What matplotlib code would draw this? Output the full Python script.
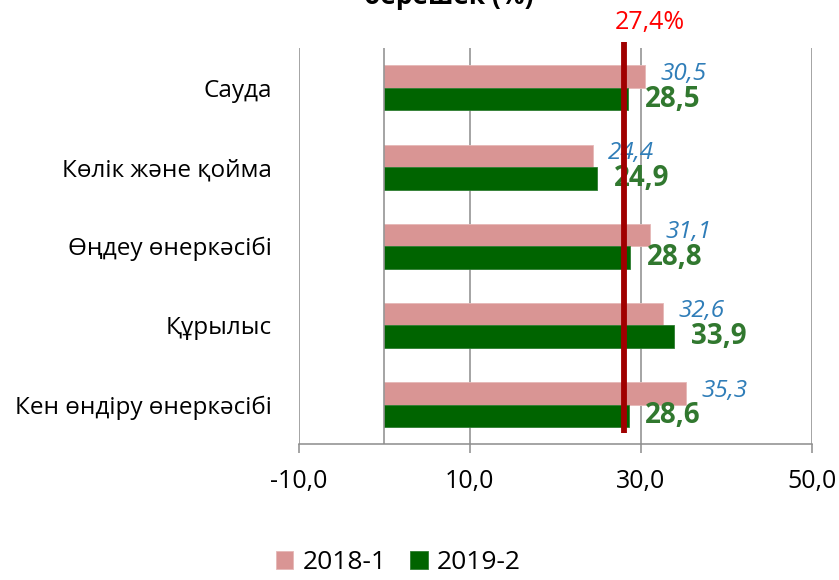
import matplotlib
matplotlib.use('Agg')
import matplotlib.pyplot as plt
import numpy as np

plt.rcParams['font.family'] = ['Open Sans', 'DejaVu Sans']

categories = ['Сауда', 'Көлік және қойма', 'Өңдеу өнеркәсібі', 'Құрылыс', 'Кен өндіру өнеркәсібі']
series_names = ['2018-1', '2019-2']
vals_2018 = [30.5, 24.4, 31.1, 32.6, 35.3]
vals_2019 = [28.5, 24.9, 28.8, 33.9, 28.6]
avg_label = '27,4%'
avg_line_x = 28.1   # where the red line sits in the picture
x_ticks = [-10, 10, 30, 50]

pink = '#D99594'
green = '#006400'
grid_col = '#8C8C8C'


def fmt(v):
    return '{:.1f}'.format(v).replace('.', ',')


fig = plt.figure(figsize=(8.39, 5.8), dpi=100)
ax = fig.add_axes([0.3558, 0.2340, 0.6117, 0.6828])

y = np.arange(len(categories))
h = 0.284
ax.barh(y - h / 2, vals_2018, height=h, color=pink, edgecolor='#E6B8B7', linewidth=0.6,
        label=series_names[0], zorder=2)
ax.barh(y + h / 2, vals_2019, height=h, color=green, edgecolor='#2E7D32', linewidth=0.6,
        label=series_names[1], zorder=2)

for yi, v in zip(y, vals_2018):
    ax.annotate(fmt(v), (v, yi - h / 2), xytext=(11, 2), textcoords='offset points',
                ha='left', va='center', fontsize=17.5, style='italic', color='#2F7DB8', zorder=5)
for yi, v in zip(y, vals_2019):
    ax.annotate(fmt(v), (v, yi + h / 2), xytext=(12, 0), textcoords='offset points',
                ha='left', va='center', fontsize=20, fontweight='bold', color='#31782F', zorder=5)

# average line, drawn over the labels as in the source
ax.plot([avg_line_x, avg_line_x], [-0.583, 4.362], color='#A00000', linewidth=4.2,
        solid_capstyle='butt', clip_on=False, zorder=6)
ax.text(31.1, -0.82, avg_label, ha='center', va='center', fontsize=18, color='#FF0000')

ax.set_xlim(-10, 50)
ax.set_ylim(4.5, -0.5)
ax.set_xticks(x_ticks)
ax.set_xticklabels([fmt(t) for t in x_ticks], fontsize=18)
ax.set_yticks(y)
ax.set_yticklabels(categories, fontsize=17.5)
ax.tick_params(axis='y', length=0, pad=19)
ax.tick_params(axis='x', length=6.5, width=1.1, color=grid_col, pad=11)

for t in x_ticks:
    ax.axvline(t, color=grid_col, linewidth=1.1, zorder=1)
ax.axvline(0, color=grid_col, linewidth=1.1, zorder=3)

for s in ['top', 'right', 'left']:
    ax.spines[s].set_visible(False)
ax.spines['bottom'].set_color(grid_col)
ax.spines['bottom'].set_linewidth(1.1)

fig.text(0.535, 0.9935, 'берешек (%)', ha='center', va='baseline', fontsize=19, fontweight='bold')

fig.legend(loc='center', bbox_to_anchor=(0.475, 0.03), ncol=2, frameon=False, fontsize=19,
           handlelength=0.66, handleheight=0.66, handletextpad=0.35, columnspacing=0.9,
           borderpad=0.2)

fig.savefig('out.png', dpi=100)
